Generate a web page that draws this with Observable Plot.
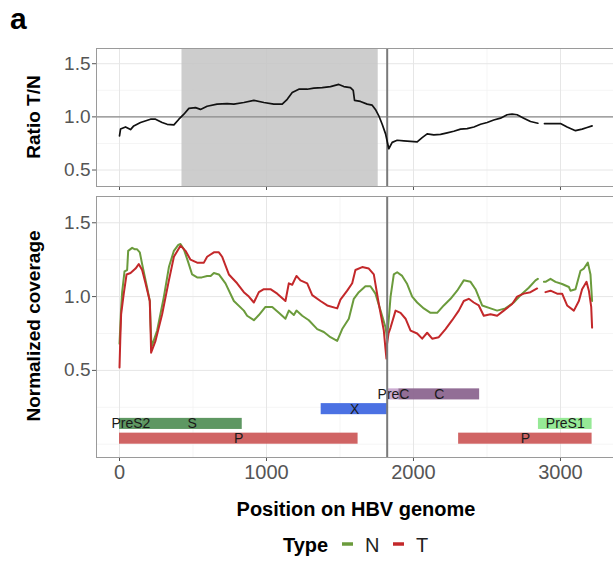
<!DOCTYPE html>
<html><head><meta charset="utf-8">
<script src="https://cdn.jsdelivr.net/npm/d3@7"></script>
<script src="https://cdn.jsdelivr.net/npm/@observablehq/plot@0.6"></script>
<style>
html,body{margin:0;padding:0;background:#fff;overflow:hidden;}
#wrap{position:relative;width:613px;height:563px;overflow:hidden;font-family:"Liberation Sans",Arial,sans-serif;}
</style></head><body><div id="wrap"></div>
<script>
// ---------- data ----------
const ratioPos = [0,7,41,75,97,143,211,245,290,324,370,404,438,472,517,551,596,664,732,778,846,914,982,1050,1107,1141,1175,1220,1277,1322,1379,1435,1492,1526,1571,1590,1599,1639,1685,1719,1741,1764,1787,1810,1832,1855,1889,1934,1980,2025,2059,2093,2138,2184,2229,2274,2320,2365,2411,2456,2501,2546,2592,2637,2671,2705,2750,2796,2846,2866,2891,2955,3000,3045,3102,3147,3181,3215];
const ratioVal = [0.82,0.885,0.905,0.88,0.915,0.947,0.978,0.978,0.947,0.93,0.925,0.978,1.025,1.08,1.087,1.07,1.10,1.12,1.125,1.12,1.135,1.155,1.135,1.12,1.12,1.165,1.23,1.26,1.26,1.27,1.275,1.285,1.305,1.285,1.275,1.25,1.155,1.145,1.12,1.11,1.07,1.01,0.93,0.84,0.70,0.76,0.78,0.775,0.77,0.765,0.805,0.84,0.83,0.835,0.85,0.865,0.885,0.89,0.905,0.93,0.947,0.97,0.988,1.02,1.025,1.02,0.988,0.956,0.94,null,0.937,0.937,0.937,0.905,0.87,0.885,0.9,0.915];

const nPos = [0,10,18,34,52,59,86,105,120,138,154,188,206,212,218,225,256,302,336,370,400,415,438,465,494,528,560,596,620,642,676,721,778,846,868,914,948,993,1039,1084,1129,1152,1186,1204,1243,1288,1345,1390,1435,1481,1515,1560,1594,1628,1673,1707,1741,1776,1810,1820,1832,1844,1866,1889,1923,1957,1991,2025,2070,2116,2161,2206,2252,2297,2342,2388,2422,2467,2524,2569,2625,2682,2739,2784,2830,2846,2866,2887,2898,2932,2966,3011,3057,3068,3102,3136,3159,3186,3204,3215];
const nVal = [0.68,0.9,1.03,1.17,1.18,1.31,1.33,1.32,1.32,1.30,1.22,1.06,0.97,0.80,0.66,0.68,0.77,1.0,1.20,1.31,1.35,1.356,1.32,1.24,1.15,1.13,1.13,1.14,1.14,1.16,1.15,1.09,0.97,0.905,0.87,0.84,0.875,0.93,0.93,0.89,0.85,0.905,0.875,0.905,0.87,0.84,0.78,0.76,0.725,0.70,0.78,0.85,0.985,1.03,1.07,1.07,1.02,0.905,0.79,0.72,0.85,1.0,1.15,1.165,1.14,1.085,1.0,0.96,0.92,0.89,0.89,0.94,0.985,1.04,1.11,1.10,1.05,0.94,0.92,0.905,0.92,0.96,1.02,1.06,1.11,1.12,null,1.10,1.10,1.12,1.10,1.085,1.065,1.04,1.05,1.175,1.19,1.23,1.15,0.97];

const tPos = [0,5,11,29,48,75,109,131,154,177,206,212,215,245,290,336,370,415,449,483,528,574,596,642,676,698,744,800,846,880,914,948,982,1027,1073,1129,1152,1175,1204,1231,1277,1311,1367,1413,1481,1503,1549,1583,1605,1651,1696,1730,1764,1798,1810,1816,1820,1830,1844,1878,1912,1946,1980,2025,2059,2093,2127,2172,2218,2263,2308,2342,2376,2410,2444,2478,2524,2569,2614,2671,2705,2750,2796,2841,2866,2898,2932,2977,3011,3045,3091,3125,3147,3177,3193,3209,3215];
const tVal = [0.52,0.70,0.88,1.02,1.15,1.16,1.19,1.22,1.18,1.09,0.97,0.75,0.62,0.70,0.88,1.11,1.27,1.345,1.31,1.25,1.23,1.23,1.27,1.30,1.30,1.27,1.15,1.09,1.03,1.0,0.96,1.03,1.05,1.05,1.02,0.97,1.09,1.08,1.14,1.11,1.09,1.01,0.97,0.94,0.92,0.98,1.04,1.09,1.18,1.20,1.19,1.15,0.95,0.77,0.64,0.58,0.68,0.75,0.79,0.905,0.89,0.85,0.77,0.75,0.715,0.755,0.715,0.725,0.78,0.84,0.905,0.97,0.985,0.96,0.94,0.87,0.88,0.87,0.905,0.95,1.0,1.02,1.03,1.055,null,1.03,1.04,1.02,1.02,0.94,0.905,0.97,1.05,1.10,1.04,0.93,0.79];

const geneNames  = ["P","P","PreS2","S","PreS1","X","PreC","C"];
const geneStarts = [0,2307,0,155,2850,1372,1828,1900];
const geneEnds   = [1623,3215,155,835,3215,1828,1900,2450];
const geneRows   = [0,0,0.1,0.1,0.1,0.2,0.3,0.3];

const shadeStart = 425, shadeEnd = 1760;   // region where ratio > 1
const markerPos = 1821;                     // vertical reference line
const xTicks = [0,1000,2000,3000];
const xMinor = [500,1500,2500];
const yTicks = [0.5,1.0,1.5];
const typeNames = ["N","T"];

// ---------- styles ----------
const typeColors = {N:"#6b9b3c", T:"#c3282a"};
const geneColors = {P:"#cd5c5c", PreS2:"#55915a", S:"#55915a", PreS1:"#90e890", X:"#4169e1", PreC:"#c8a6cf", C:"#8c6690"};
const FONT = '"Liberation Sans",Arial,sans-serif';
const W = 616;
const xDomain = [-156.5, 3381];
const barH = 0.075;

const ratio = ratioPos.map((x,i)=>({x, y: ratioVal[i]}));
const covN = nPos.map((x,i)=>({x, y: nVal[i], type:"N"}));
const covT = tPos.map((x,i)=>({x, y: tVal[i], type:"T"}));
const genes = geneNames.map((g,i)=>({g, x1: geneStarts[i], x2: geneEnds[i], y1: geneRows[i], y2: geneRows[i]+barH, xm:(geneStarts[i]+geneEnds[i])/2, ym: geneRows[i]+barH/2}));

const svgStyle = {position:"absolute", left:"0px", top:"0px", background:"none", maxWidth:"none", overflow:"visible", fontFamily: FONT};
const gridMajor = {stroke:"#e6e6e6", strokeOpacity:1, strokeWidth:1};
const gridMinor = {stroke:"#f2f2f2", strokeOpacity:1, strokeWidth:0.8};

const ratioPlot = Plot.plot({
  width: W, height: 196, marginLeft: 96, marginRight: 0, marginTop: 48, marginBottom: 10,
  style: svgStyle,
  x: {domain: xDomain, axis: null},
  y: {domain: [0.345, 1.643], axis: null},
  marks: [
    Plot.gridX(xMinor, gridMinor),
    Plot.gridY([0.75,1.25], gridMinor),
    Plot.gridX(xTicks, gridMajor),
    Plot.gridY(yTicks, gridMajor),
    Plot.rect([{x1:shadeStart, x2:shadeEnd}], {x1:"x1", x2:"x2", fill:"#c4c4c4", fillOpacity:0.85}),
    Plot.ruleY([1], {stroke:"#8a8a8a", strokeWidth:1.4}),
    Plot.ruleX([markerPos], {stroke:"#7a7a7a", strokeWidth:2}),
    Plot.line(ratio, {x:"x", y:"y", stroke:"#111", strokeWidth:1.7}),
    Plot.axisY(yTicks, {tickFormat: d3.format(".1f"), fontSize: 19, tickSize: 4, tickPadding: 2, color:"#555", label: null}),
    Plot.axisX(xTicks, {tickFormat: () => "", tickSize: 4, color:"#555", label: null}),
    Plot.frame({stroke:"#9a9a9a"})
  ]
});

const covPlot = Plot.plot({
  width: W, height: 490, marginLeft: 96, marginRight: 0, marginTop: 196, marginBottom: 33,
  style: svgStyle,
  x: {domain: xDomain, axis: null},
  y: {domain: [-0.09, 1.678], axis: null},
  marks: [
    Plot.gridX(xMinor, gridMinor),
    Plot.gridY([0,0.25,0.75,1.25], gridMinor),
    Plot.gridX(xTicks, gridMajor),
    Plot.gridY(yTicks, gridMajor),
    Plot.line(covN, {x:"x", y:"y", stroke: typeColors.N, strokeWidth:2}),
    Plot.line(covT, {x:"x", y:"y", stroke: typeColors.T, strokeWidth:2}),
    Plot.rect(genes, {x1:"x1", x2:"x2", y1:"y1", y2:"y2", fill: d => geneColors[d.g], fillOpacity:0.95}),
    Plot.text(genes, {x:"xm", y:"ym", text:"g", fontSize:14, fill:"#1a1a1a", fontFamily: FONT}),
    Plot.ruleX([markerPos], {stroke:"#7a7a7a", strokeWidth:2}),
    Plot.axisY(yTicks, {tickFormat: d3.format(".1f"), fontSize: 19, tickSize: 4, tickPadding: 2, color:"#555", label: null}),
    Plot.axisX(xTicks, {tickFormat: d3.format("d"), fontSize: 20, tickSize: 4, tickPadding: 3, color:"#555", label: null}),
    Plot.frame({stroke:"#9a9a9a"})
  ]
});

const wrap = document.getElementById("wrap");
wrap.appendChild(covPlot);
wrap.appendChild(ratioPlot);

// ---------- titles & legend (text overlay) ----------
const ov = d3.select(wrap).append("svg")
  .attr("width", 613).attr("height", 563)
  .style("position","absolute").style("left","0px").style("top","0px")
  .style("font-family", FONT);
ov.append("text").attr("x", 10).attr("y", 29).attr("font-size", 30).attr("font-weight","bold").text("a");
ov.append("text").attr("transform","translate(40,117) rotate(-90)").attr("text-anchor","middle")
  .attr("font-size", 19).attr("font-weight","bold").text("Ratio T/N");
ov.append("text").attr("transform","translate(40,326) rotate(-90)").attr("text-anchor","middle")
  .attr("font-size", 19).attr("font-weight","bold").text("Normalized coverage");
ov.append("text").attr("x", 356).attr("y", 516).attr("text-anchor","middle")
  .attr("font-size", 20).attr("font-weight","bold").text("Position on HBV genome");
ov.append("text").attr("x", 283).attr("y", 552).attr("font-size", 20).attr("font-weight","bold").text("Type");
const keyX = [342, 393];
typeNames.forEach((t,i) => {
  ov.append("line").attr("x1", keyX[i]).attr("x2", keyX[i]+11).attr("y1", 544).attr("y2", 544)
    .attr("stroke", typeColors[t]).attr("stroke-width", 3.5);
  ov.append("text").attr("x", keyX[i]+23).attr("y", 552).attr("font-size", 20).attr("fill","#222").text(t);
});
</script></body></html>
